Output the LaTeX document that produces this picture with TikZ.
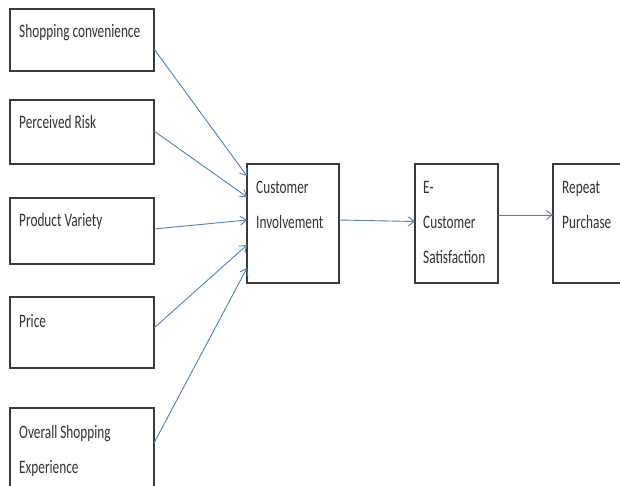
\documentclass[tikz,border=0pt]{standalone}
\usepackage{fontspec}
\setmainfont{Carlito}
\newfontfamily\boxfont[FakeStretch=0.7]{Carlito}
\usetikzlibrary{arrows.meta,calc}
\definecolor{arrowblue}{HTML}{4F81BD}
\definecolor{boxline}{HTML}{3A3A3A}
\tikzset{
  boxnode/.style={draw=boxline, line width=1.3pt, rectangle, inner sep=0pt, outer sep=0pt},
  boxtext/.style={anchor=base west, inner sep=0pt, align=left, text=black!80,
    font=\boxfont\fontsize{19}{35}\selectfont},
  arr/.style={draw=arrowblue, line width=0.9pt, -{Straight Barb[length=6pt,width=9pt]}}
}
\begin{document}
\begin{tikzpicture}[x=1pt,y=-1pt]
\useasboundingbox (0,0) rectangle (620,486);
\clip (0,0) rectangle (620,486);
\fill[white] (0,0) rectangle (620,486);
% left boxes
\node[boxnode, minimum width=144pt, minimum height=62pt, anchor=north west] (b1) at (10,9) {};
\node[boxnode, minimum width=144pt, minimum height=64pt, anchor=north west] (b2) at (10,100) {};
\node[boxnode, minimum width=144pt, minimum height=66pt, anchor=north west] (b3) at (10,198) {};
\node[boxnode, minimum width=144pt, minimum height=71pt, anchor=north west] (b4) at (10,297) {};
\node[boxnode, minimum width=144pt, minimum height=84pt, anchor=north west] (b5) at (10,408) {};
% right boxes
\node[boxnode, minimum width=92pt, minimum height=119pt, anchor=north west] (ci) at (247,164) {};
\node[boxnode, minimum width=83pt, minimum height=119pt, anchor=north west] (es) at (415,164) {};
\node[boxnode, minimum width=80pt, minimum height=119pt, anchor=north west] (rp) at (553,164) {};
% texts (base anchor = last line)
\node[boxtext] (t1) at (19,38) {Shopping convenience};
\node[boxtext] (t2) at (19,129) {Perceived Risk};
\node[boxtext] (t3) at (19,226) {Product Variety};
\node[boxtext] (t4) at (19,327) {Price};
\node[boxtext] (t5) at (19,473) {Overall Shopping\\Experience};
\node[boxtext] (t6) at (256,228) {Customer\\Involvement};
\node[boxtext] (t7) at (423,263) {E-\\Customer\\Satisfaction};
\node[boxtext] (t8) at (562,228) {Repeat\\Purchase};
% arrows
\draw[arr] ([yshift=-9pt]b1.east) -- ([yshift=47.5pt]ci.west);
\draw[arr] ([yshift=1pt]b2.east) -- ([yshift=26.5pt]ci.west);
\draw[arr] ([yshift=2pt]b3.east) -- ([yshift=3.5pt]ci.west);
\draw[arr] ([yshift=4.5pt]b4.east) -- ([yshift=-21.5pt]ci.west);
\draw[arr] ([yshift=7pt]b5.east) -- ([yshift=-44.5pt]ci.west);
\draw[arr] ([yshift=3.5pt]ci.east) -- ([yshift=2pt]es.west);
\draw[arr] ([yshift=8.5pt]es.east) -- ([yshift=8.5pt]rp.west);
\end{tikzpicture}
\end{document}
